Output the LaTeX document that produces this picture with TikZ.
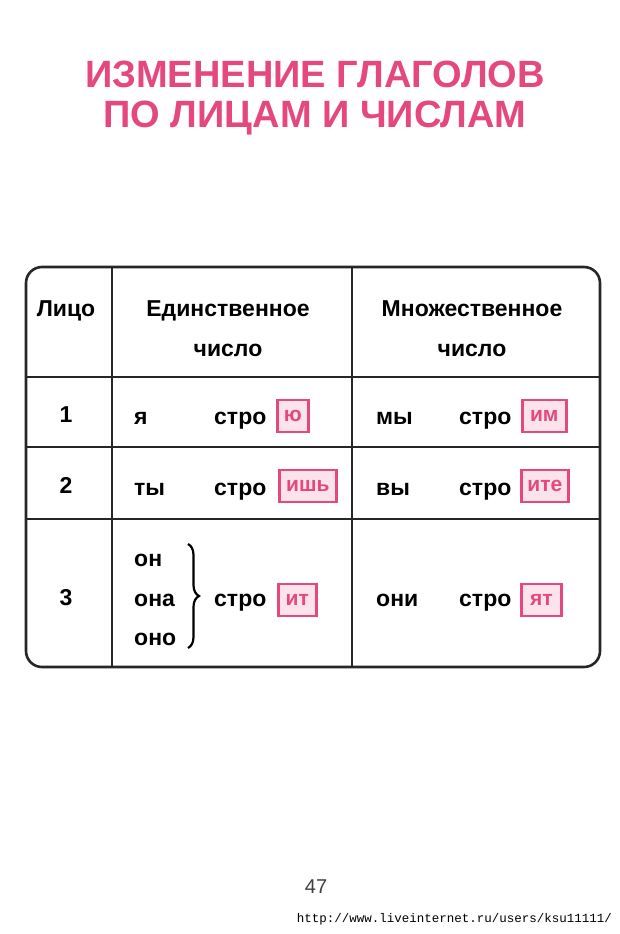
\documentclass[tikz,border=0pt]{standalone}
\usepackage{fontspec}
\setmainfont{Liberation Sans}
\newfontfamily\monof{Liberation Mono}
\usetikzlibrary{decorations.pathreplacing}
\definecolor{pinkc}{HTML}{E5487D}
\definecolor{pinkf}{HTML}{FBE3EC}
\tikzset{
 txt/.style={font=\bfseries\fontsize{23}{23}\selectfont, inner sep=0pt, anchor=base west},
 ctxt/.style={font=\bfseries\fontsize{23}{23}\selectfont, inner sep=0pt, anchor=base},
 endb/.style={draw=pinkc, line width=2.6pt, fill=pinkf, text=pinkc, font=\bfseries\fontsize{21}{21}\selectfont, inner xsep=2pt, minimum height=32pt, anchor=west},
 title/.style={font=\bfseries\fontsize{38}{38}\selectfont, text=pinkc, inner sep=0pt, anchor=base},
 grid/.style={line width=2.6pt, black!85}
}
\begin{document}
\begin{tikzpicture}[x=1pt,y=-1pt]
\useasboundingbox (0,0) rectangle (620,934);
\fill[white] (0,0) rectangle (620,934);
\node[title] (t1) at (315,88) {ИЗМЕНЕНИЕ ГЛАГОЛОВ};
\node[title] (t2) at (315,127) {ПО ЛИЦАМ И ЧИСЛАМ};
% table
\draw[grid, rounded corners=16pt] (26,267) rectangle (600,667);
\draw[grid] (112,267) -- (112,667);
\draw[grid] (352,267) -- (352,667);
\draw[grid] (26,377) -- (600,377);
\draw[grid] (26,447) -- (600,447);
\draw[grid] (26,519) -- (600,519);
% header
\node[ctxt] (h1) at (66,316) {Лицо};
\node[ctxt] (h2) at (228,316) {Единственное};
\node[ctxt] (h3) at (228,356) {число};
\node[ctxt] (h4) at (472,316) {Множественное};
\node[ctxt] (h5) at (472,356) {число};
% row 1
\node[ctxt] (n1) at (66,422) {1};
\node[txt] (p1) at (134,424) {я};
\node[txt] (s1) at (214,424) {стро};
\node[endb, minimum width=31pt] (e1) at (276,416) {ю};
\node[txt] (p4) at (376,424) {мы};
\node[txt] (s4) at (459,424) {стро};
\node[endb, minimum width=44pt] (e4) at (521,416) {им};
% row 2
\node[ctxt] (n2) at (66,493) {2};
\node[txt] (p2) at (134,495) {ты};
\node[txt] (s2) at (214,495) {стро};
\node[endb, minimum width=57pt] (e2) at (278,486) {ишь};
\node[txt] (p5) at (376,495) {вы};
\node[txt] (s5) at (459,495) {стро};
\node[endb, minimum width=47pt] (e5) at (520,486) {ите};
% row 3
\node[ctxt] (n3) at (66,605) {3};
\node[txt] (o1) at (134,566) {он};
\node[txt] (o2) at (134,606) {она};
\node[txt] (o3) at (134,645) {оно};
\draw[line width=2.2pt, decorate, decoration={brace, amplitude=11pt}] (188,544) -- (188,648);
\node[txt] (s3) at (214,606) {стро};
\node[endb, minimum width=38pt] (e3) at (277,600) {ит};
\node[txt] (p6) at (376,606) {они};
\node[txt] (s6) at (459,606) {стро};
\node[endb, minimum width=40pt] (e6) at (520,600) {ят};
% page
\node[font=\fontsize{20}{20}\selectfont, text=black!75, inner sep=0pt, anchor=base] (pg) at (316,893) {47};
\node[font=\monof\fontsize{12.5}{12.5}\selectfont, inner sep=0pt, anchor=base east] (url) at (612,922) {http://www.liveinternet.ru/users/ksu11111/};
\end{tikzpicture}
\end{document}
